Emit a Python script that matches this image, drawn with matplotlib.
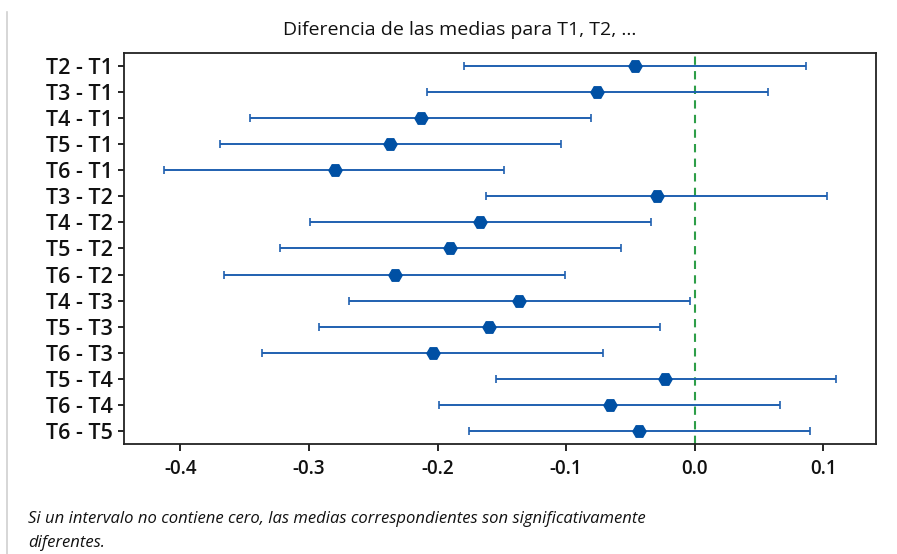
import matplotlib
matplotlib.use("Agg")
import matplotlib.pyplot as plt
from matplotlib.lines import Line2D

labels = ["T2 - T1", "T3 - T1", "T4 - T1", "T5 - T1", "T6 - T1",
          "T3 - T2", "T4 - T2", "T5 - T2", "T6 - T2",
          "T4 - T3", "T5 - T3", "T6 - T3",
          "T5 - T4", "T6 - T4", "T6 - T5"]
centers = [-0.0467, -0.0760, -0.2131, -0.2367, -0.2797,
           -0.0293, -0.1669, -0.1905, -0.2330,
           -0.1364, -0.1597, -0.2037,
           -0.0231, -0.0661, -0.0431]
lowers = [-0.1794, -0.2084, -0.3460, -0.3694, -0.4124,
          -0.1620, -0.2994, -0.3227, -0.3658,
          -0.2688, -0.2921, -0.3362,
          -0.1548, -0.1988, -0.1753]
uppers = [0.0863, 0.0567, -0.0806, -0.1042, -0.1485,
          0.1031, -0.0342, -0.0576, -0.1006,
          -0.0037, -0.0267, -0.0711,
          0.1096, 0.0663, 0.0897]
xticks = [-0.4, -0.3, -0.2, -0.1, 0.0, 0.1]

plt.rcParams['font.family'] = ['Open Sans', 'DejaVu Sans']

fig = plt.figure(figsize=(8.97, 5.54), dpi=100)
ax = fig.add_axes([124/897, 1-444/554, (876-124)/897, (444-53)/554])

ys = list(range(len(labels)))
xerr = [[c - l for c, l in zip(centers, lowers)], [u - c for c, u in zip(centers, uppers)]]
ax.errorbar(centers, ys, xerr=xerr, fmt='H', color='#0050A4', ecolor='#1F60B0',
            elinewidth=1.4, capsize=3, capthick=1.2, markersize=9.5, zorder=3)
ax.axvline(0.0, color='#2E9E48', linestyle=(0, (4, 3)), linewidth=1.5, zorder=2)

ax.set_xlim(-0.4438, 0.141)
ax.set_ylim(len(labels) - 0.5, -0.5)
ax.set_yticks(ys)
ax.set_yticklabels(labels, fontsize=15.5, fontweight='semibold', color='#111111')
ax.set_xticks(xticks)
ax.set_xticklabels([f"{v:.1f}" for v in xticks], fontsize=13.5, fontweight='semibold', color='#111111')
ax.tick_params(axis='y', length=4, width=1.2, pad=4)
ax.tick_params(axis='x', length=5, width=1.2, pad=6)
for s in ax.spines.values():
    s.set_linewidth(1.3)
    s.set_color('#222222')

fig.text(460/897, 1-30/554, "Diferencia de las medias para T1, T2, ...", ha='center', va='center',
         fontsize=14, fontweight='medium', color='#111111')
fig.text(28/897, 1-519/554, "Si un intervalo no contiene cero, las medias correspondientes son significativamente",
         ha='left', va='center', fontsize=12, style='italic', color='#111111')
fig.text(28/897, 1-543/554, "diferentes.", ha='left', va='center', fontsize=12, style='italic', color='#111111')

fig.add_artist(Line2D([7/897, 7/897], [0, 1-12/554], transform=fig.transFigure, color='#d0d0d0', linewidth=1.2))

fig.savefig("out.png", dpi=100)
